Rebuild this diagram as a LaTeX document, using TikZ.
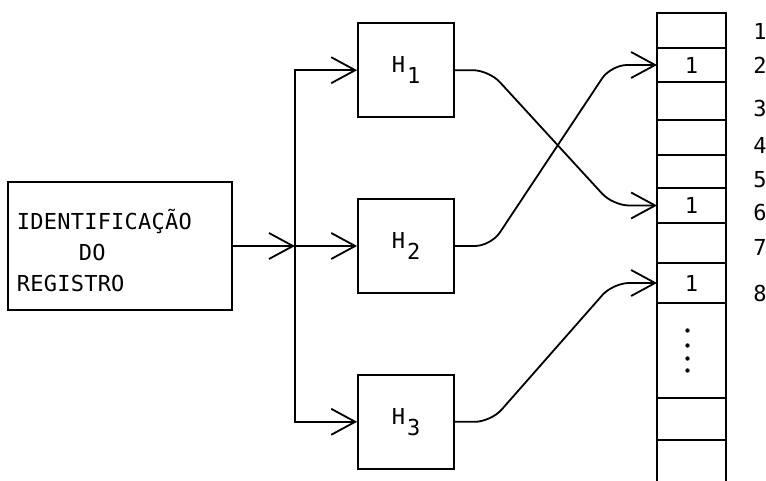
\documentclass[tikz,border=0pt]{standalone}
\usepackage{fontspec}
\newfontfamily\regfont[LetterSpace=1]{DejaVu Sans Mono}
\usetikzlibrary{positioning,arrows.meta}

\begin{document}
\begin{tikzpicture}[>={Straight Barb[length=12pt,width=13pt]},x=0.5pt,y=-0.5pt,node distance=40pt,line width=0.9pt,
  hbox/.style={draw,minimum width=48pt,minimum height=47pt,inner sep=0pt,font=\regfont\fontsize{11pt}{12pt}\selectfont},
  cell/.style={draw,anchor=north west,minimum width=34.5pt,inner sep=0pt,outer sep=0pt,font=\regfont\fontsize{11pt}{12pt}\selectfont},
  txt/.style={font=\regfont\fontsize{11pt}{15.5pt}\selectfont}]
\useasboundingbox (0,0) rectangle (766,481);
\node[draw,txt,minimum width=112pt,minimum height=64pt,text width=103pt,align=left,inner xsep=4.5pt] (idreg) at (120,246) {\rule{0pt}{15pt}IDENTIFICAÇÃO\\\hspace*{31pt}DO\\REGISTRO};
\node[hbox] (h2) at (406,246) {H\kern1pt\raisebox{-5.5pt}{2}};
\node[hbox,above=of h2] (h1) {H\kern1pt\raisebox{-5.5pt}{1}};
\node[hbox,below=of h2] (h3) {H\kern1pt\raisebox{-5.5pt}{3}};
\coordinate[right=31pt of idreg.east] (bus);
\draw[->] (idreg.east) -- (bus);
\draw[->] (bus) |- (h1.west);
\draw[->] (bus) -- (h2.west);
\draw[->] (bus) |- (h3.west);
% register
\foreach \i/\t/\b/\v in {1/13/48/{},2/48/82/1,3/82/120/{},4/120/155/{},5/155/188/{},6/188/223/1,7/223/263/{},8/263/303/1,9/303/398/{},10/398/440/{}}
  \node[cell,minimum height={(\b-\t)*0.5pt}] (c\i) at (657,\t) {\v};
\draw (c10.south west) -- ++(0,41);
\draw (c10.south east) -- ++(0,41);
\foreach \d in {10,2.5,-4,-10}
  \fill ([xshift=-2pt,yshift=\d pt]c9.center) circle (1.1pt);
\foreach \n/\y in {1/31,2/65,3/108,4/145,5/180,6/212,7/247,8/293}
  \node[txt] (n\n) at (760,\y) {\n};
\draw[->,rounded corners=8pt] (h1.east) -- ++(34,0) -- ([xshift=-22pt]c6.west) -- (c6.west);
\draw[->,rounded corners=8pt] (h2.east) -- ++(36,0) -- ([xshift=-23pt]c2.west) -- (c2.west);
\draw[->,rounded corners=8pt] (h3.east) -- ++(36,0) -- ([xshift=-22pt]c8.west) -- (c8.west);
\end{tikzpicture}
\end{document}
